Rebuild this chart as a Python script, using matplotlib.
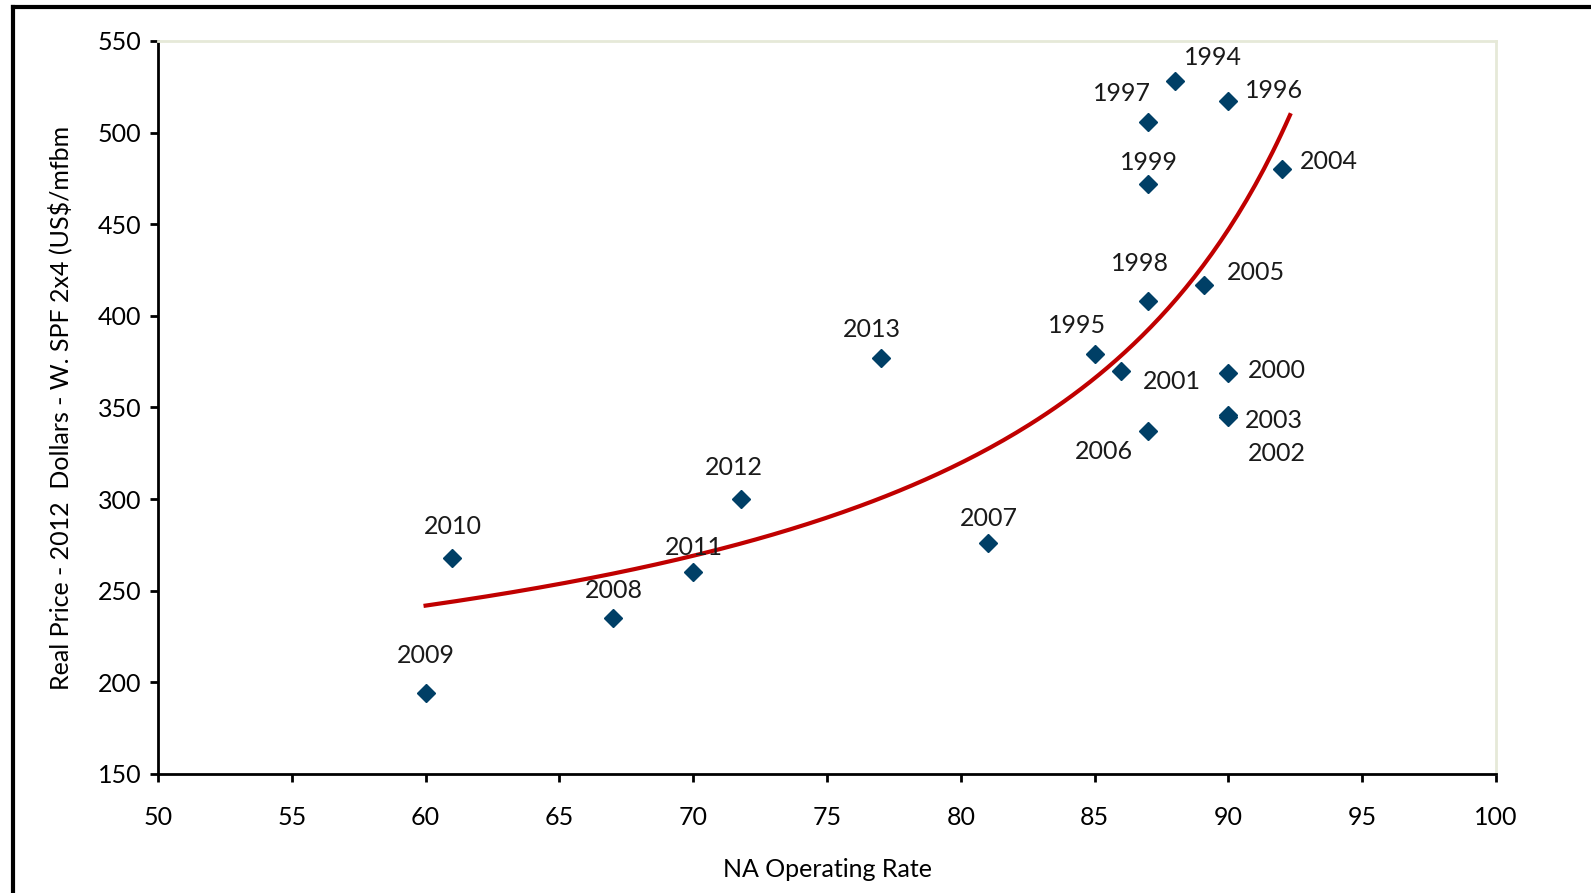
import numpy as np
import matplotlib
matplotlib.use('Agg')
import matplotlib.pyplot as plt
from matplotlib.lines import Line2D

plt.rcParams['font.family'] = ['Lato', 'DejaVu Sans']

# scatter data: year, operating rate (%), real price (US$/mfbm)
years = ['1994', '1995', '1996', '1997', '1998', '1999', '2000', '2001', '2002', '2003',
         '2004', '2005', '2006', '2007', '2008', '2009', '2010', '2011', '2012', '2013']
rate = [88, 85, 90, 87, 87, 87, 90, 86, 90, 90,
        92, 89.1, 87, 81, 67, 60, 61, 70, 71.8, 77]
price = [528, 379, 517, 506, 408, 472, 369, 370, 345, 346,
         480, 417, 337, 276, 235, 194, 268, 260, 300, 377]

# label offsets (pixels) from each point
label_dx = [38, -18, 46, -26, -8, 1, 48, 51, 48, 45,
            47, 52, -44, 1, 1, 0, 1, 1, -7, -9]
label_dy = [24, 29, 11, 28, 38, 21, 2, -11, -37, -6,
            8, 12, -20, 25, 28, 38, 31, 25, 32, 29]

# trend line
trend_x = [60.0, 66.5, 69.0, 74.0, 77.0, 80.7, 83.8, 85.7, 86.7, 88.9, 90.4, 92.3]
trend_y = [241, 263, 269, 290, 307, 329, 350, 370, 387, 421, 454, 510]

# fit y = a + b/(k - x) to the read points (ends weighted more)
tx = np.array(trend_x)
ty = np.array(trend_y)
w = np.ones_like(tx)
w[0] = 4
w[-1] = 3
best = None
for k in np.linspace(93, 140, 941):
    A = np.column_stack([np.ones_like(tx), 1.0 / (k - tx)])
    sol = np.linalg.lstsq(A * w[:, None], ty * w, rcond=None)[0]
    err = np.sum((w * (A @ sol - ty)) ** 2)
    if best is None or err < best[0]:
        best = (err, k, sol)
_, k_fit, (a_fit, b_fit) = best

fig = plt.figure(figsize=(15.91, 8.93), dpi=100)
ax = fig.add_axes([0.0993, 0.1333, 0.8410, 0.8208])

xs = np.linspace(trend_x[0], trend_x[-1], 200)
ax.plot(xs, a_fit + b_fit / (k_fit - xs), color='#C00000', lw=3, zorder=2)

ax.plot(rate, price, linestyle='none', marker='D', markersize=9,
        color='#003F66', zorder=3)

for yr, x, y, dx, dy in zip(years, rate, price, label_dx, label_dy):
    ax.annotate(yr, (x, y), xytext=(dx, dy), textcoords='offset pixels',
                ha='center', va='center', fontsize=18, color='#1a1a1a')

ax.set_xlim(50, 100)
ax.set_ylim(150, 550)
ax.set_xticks(range(50, 101, 5))
ax.set_yticks(range(150, 551, 50))
ax.tick_params(direction='out', length=6, width=2, labelsize=18, pad=6, colors='black')
ax.tick_params(axis='x', pad=17)

for s in ['left', 'bottom']:
    ax.spines[s].set_linewidth(2)
    ax.spines[s].set_color('black')
for s in ['top', 'right']:
    ax.spines[s].set_linewidth(2)
    ax.spines[s].set_color('#E6E9D8')

ax.set_xlabel('NA Operating Rate', fontsize=18, labelpad=21)
ax.set_ylabel('Real Price - 2012  Dollars - W. SPF 2x4 (US$/mfbm', fontsize=18, labelpad=18)

# black frame lines at top and left of the image
fig.add_artist(Line2D([0.008, 1.0], [0.992, 0.992], color='black', lw=3,
                      transform=fig.transFigure))
fig.add_artist(Line2D([0.008, 0.008], [0.0, 0.992], color='black', lw=3,
                      transform=fig.transFigure))

fig.savefig('out.png', dpi=100)
